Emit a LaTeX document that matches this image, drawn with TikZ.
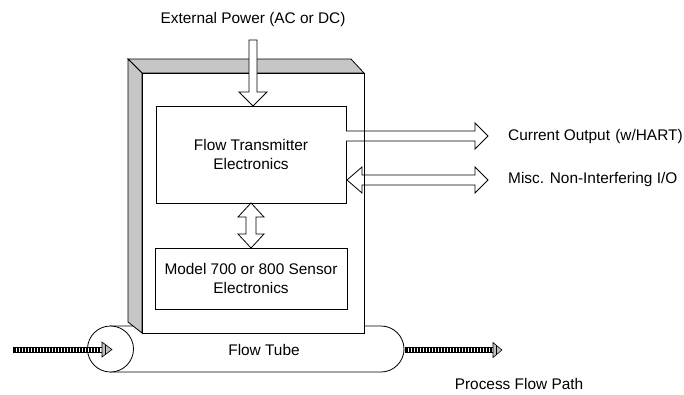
\documentclass[tikz,border=0pt]{standalone}
\usepackage{fontspec}
\setmainfont{Liberation Sans}
\usepackage{tikz}
\usetikzlibrary{positioning}

\begin{document}
\begin{tikzpicture}[x=1pt, y=-1pt,
  lbl/.style={font=\fontsize{15.4}{18.5}\selectfont, inner sep=0pt},
  elecbox/.style={draw, fill=white, line width=0.8, align=center, font=\fontsize{15.4}{18.5}\selectfont},
  blockarrow/.style={draw=black, fill=white, line width=0.8, line join=miter},
  side/.style={draw=black, fill=gray!45, line width=0.8},
  stripe/.style={line width=1.3}]
\useasboundingbox (0,0) rectangle (684,394);

    % flow tube
    \draw [line width=0.8, fill=white] (110,326) -- (381,326) arc[start angle=-90, end angle=90, radius=23] -- (110,372);
    \draw [line width=0.8, fill=white] (110.5,349) circle[radius=23];

    % housing
    \draw [side] (128,59) -- (351,59) -- (364,73) -- (142,73) -- cycle;
    \draw [side] (128,59) -- (142,73) -- (142,333) -- (128,322) -- cycle;
    \draw [line width=0.8, fill=white] (142,73) rectangle (364,333);

    \node (ft) at (251,154.5) [elecbox, minimum width=190, minimum height=97] {Flow Transmitter\\Electronics};
    \node (sensor) at (251,278.5) [elecbox, minimum width=192, minimum height=61] {Model 700 or 800 Sensor\\Electronics};

    % block arrows
    \draw [blockarrow] (249,40) -- (249,92) -- (239,92) -- (253,106) -- (267,92) -- (257,92) -- (257,40) -- cycle;
    \draw [blockarrow] (251,203) -- (264,217) -- (256,217) -- (256,234) -- (264,234) -- (251,248)
        -- (238,234) -- (246,234) -- (246,217) -- (238,217) -- cycle;
    \draw [blockarrow] (346,131) -- (475,131) -- (475,123) -- (488,136) -- (475,149) -- (475,141) -- (346,141);
    \draw [blockarrow] (347,180) -- (362,167) -- (362,175) -- (475,175) -- (475,167) -- (488,180)
        -- (475,193) -- (475,185) -- (362,185) -- (362,193) -- cycle;
    \draw [line width=0.8] (364,73) -- (364,333);

    % labels
    \node (power) at (253,20) [lbl] {External Power (AC or DC)};
    \node (hart) at (508,137) [lbl, anchor=west] {Current Output\hspace{1pt} (w/HART)};
    \node (misc) at (508,180) [lbl, anchor=west] {Misc. Non-Interfering I/O};
    \node (tube) at (264,350) [lbl] {Flow Tube};
    \node (flowpath) at (519,384) [lbl] {Process Flow Path};

    % process flow
    \draw [line width=0.6, fill=white] (13,347) rectangle (102,352);
    \foreach \x in {15,18,...,100} \draw [stripe] (\x,347) -- (\x,352);
    \draw [line width=0.6, fill=gray!50] (102,342) -- (112,349.5) -- (102,357) -- cycle;
    \draw [line width=1] (105,344.5) -- (105,354.5);

    \draw [line width=0.6, fill=white] (405,347.5) rectangle (493,352.5);
    \foreach \x in {407,410,...,491} \draw [stripe] (\x,347.5) -- (\x,352.5);
    \draw [line width=0.6, fill=gray!50] (493,342.5) -- (502,350) -- (493,357.5) -- cycle;
    \draw [line width=1] (496,345) -- (496,355);

\end{tikzpicture}
\end{document}
